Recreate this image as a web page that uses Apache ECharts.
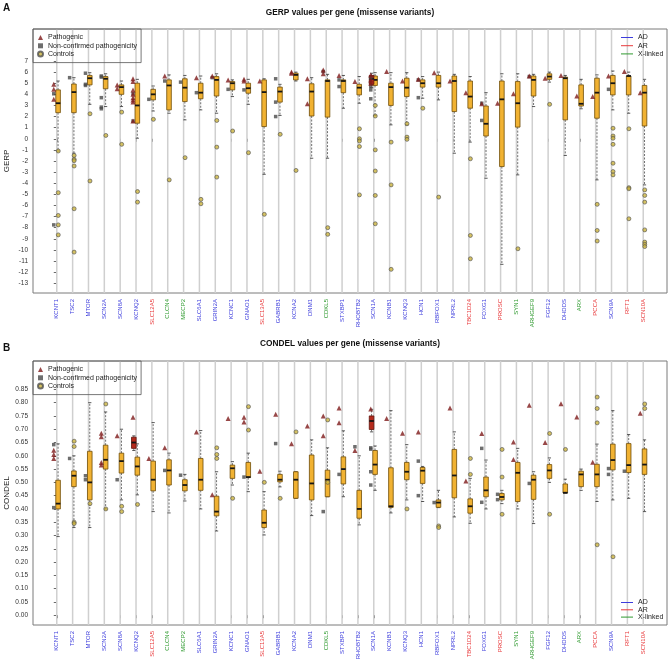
<!DOCTYPE html>
<html><head><meta charset="utf-8">
<script src="https://cdn.jsdelivr.net/npm/echarts@6/dist/echarts.min.js"></script>
<style>html,body{margin:0;padding:0;background:#fff}#c{width:669px;height:660px}</style>
</head><body><div id="c"></div>
<script>
// ---------- categories ----------
const genes = ['KCNT1','TSC2','MTOR','SCN2A','SCN8A','KCNQ2','SLC12A5','CLCN4','MECP2','SLC6A1','GRIN2A','KCNC1','GNAO1','SLC13A5','GABRB1','KCNA2','DNM1','CDKL5','STXBP1','RHOBTB2','SCN1A','KCNB1','KCNQ3','HCN1','RBFOX1','NPRL2','TBC1D24','FOXG1','PROSC','SYN1','ARHGEF9','FGF12','DHDDS','ARX','PCCA','SCN9A','RFT1','SCN10A'];
const inheritance = ['AD','AD','AD','AD','AD','AD','AR','XL','XL','AD','AD','AD','AD','AR','AD','AD','AD','XL','AD','AD','AD','AD','AD','AD','AD','AD','AR','AD','AR','XL','XL','AD','AD','XL','AR','AD','AR','AR'];

// ---------- tick labels ----------
const gerpTicks = [-13,-12,-11,-10,-9,-8,-7,-6,-5,-4,-3,-2,-1,0,1,2,3,4,5,6,7];
const condelTicks = [0.00,0.05,0.10,0.15,0.20,0.25,0.30,0.35,0.40,0.45,0.50,0.55,0.60,0.65,0.70,0.75,0.80,0.85];

// ---------- GERP (panel A) ----------
// [low whisker, Q1, median, Q3, high whisker] per gene (controls)
const gerpBoxes = [
 [-1.1,2.35,3.2,4.4,5.2],[-1.3,2.35,4.2,4.93,5.5],[3.1,4.85,5.45,5.7,5.95],[2.9,4.5,5.4,5.6,5.85],
 [2.9,4.0,4.65,4.85,5.2],[0.05,1.4,3.0,5.0,5.35],[2.5,3.5,4.0,4.45,4.75],[2.3,2.6,4.8,5.3,5.75],
 [1.7,3.35,4.6,5.4,5.7],[2.6,3.6,4.15,5.0,5.65],[2.3,3.85,5.3,5.6,5.85],[3.8,4.4,5.0,5.15,5.3],
 [3.1,4.1,4.55,5.0,5.35],[-3.2,1.1,4.2,5.3,5.4],[2.1,3.3,4.25,4.65,4.9],[5.2,5.3,5.75,5.9,6.0],
 [-1.75,2.05,4.25,4.95,5.5],[-1.75,1.95,5.2,5.3,5.8],[2.75,4.15,5.2,5.3,5.7],[3.2,3.95,4.6,4.9,5.6],
 [2.1,4.8,5.3,5.65,5.95],[1.25,3.0,4.65,5.0,5.95],[1.25,3.8,4.6,5.45,5.95],[3.65,4.65,5.0,5.3,5.6],
 [3.5,4.65,5.0,5.7,6.0],[-1.3,2.45,5.2,5.65,5.8],[-0.3,2.75,3.8,5.2,5.6],[-3.55,0.25,1.35,2.95,4.15],
 [-11.3,-2.5,3.55,5.2,5.85],[-3.25,1.05,3.2,5.15,5.85],[2.9,3.85,5.3,5.65,5.8],[5.1,5.35,5.6,5.85,6.0],
 [-1.5,1.7,5.45,5.55,5.7],[2.7,2.95,3.15,4.85,5.35],[-3.7,1.85,4.15,5.45,5.75],[2.6,3.95,5.0,5.7,6.1],
 [2.3,3.95,5.65,5.65,6.0],[-4.15,1.15,4.15,4.8,5.35]
];
const gerpPathoBoxes = [['SCN1A',4.6,4.9,5.4,5.7,5.9]];
const gerpPathogenic = [
 ['KCNT1',4.9],['KCNT1',4.45],['KCNT1',3.55],['SCN8A',4.85],['SCN8A',4.5],
 ['KCNQ2',5.4],['KCNQ2',5.15],['KCNQ2',4.4],['KCNQ2',4.0],['KCNQ2',3.7],['KCNQ2',3.5],['KCNQ2',3.3],['KCNQ2',1.6],
 ['CLCN4',5.65],['SLC6A1',5.5],['GRIN2A',5.65],['KCNC1',5.3],['GNAO1',5.35],['GNAO1',5.2],['SLC13A5',5.2],
 ['KCNA2',6.0],['KCNA2',5.9],['DNM1',5.4],['DNM1',3.15],['CDKL5',6.2],['CDKL5',5.85],['STXBP1',5.7],
 ['RHOBTB2',5.15],['SCN1A',5.75],['SCN1A',5.3],['SCN1A',5.0],['KCNB1',6.05],['KCNQ3',5.2],['HCN1',5.35],
 ['RBFOX1',5.95],['NPRL2',5.2],['TBC1D24',4.15],['FOXG1',3.15],['PROSC',3.2],['SYN1',4.05],['ARHGEF9',5.65],
 ['FGF12',5.45],['DHDDS',5.7],['ARX',3.85],['PCCA',3.8],['SCN9A',5.65],['RFT1',6.05],['SCN10A',4.15]
];
const gerpNonConfirmed = [
 ['KCNT1',4.05],['KCNT1',-7.75],['TSC2',5.5],['MTOR',5.9],['MTOR',4.9],['MTOR',4.8],
 ['SCN2A',5.65],['SCN2A',5.55],['SCN2A',3.7],['SCN2A',2.85],['SCN2A',2.7],['KCNQ2',4.05],['KCNQ2',1.6],
 ['SLC12A5',3.55],['CLCN4',5.2],['MECP2',5.1],['SLC6A1',4.15],['GRIN2A',5.5],['KCNC1',4.45],['GNAO1',4.4],
 ['GABRB1',5.4],['GABRB1',3.3],['GABRB1',2.0],['CDKL5',6.05],['STXBP1',5.3],['STXBP1',4.7],
 ['SCN1A',5.5],['SCN1A',4.7],['SCN1A',4.4],['SCN1A',3.6],['HCN1',5.3],['HCN1',3.7],['FOXG1',3.2],['FOXG1',1.65],
 ['ARHGEF9',5.6],['SCN9A',4.45]
];
const gerpControls = [
 ['KCNT1',-1.1],['KCNT1',-4.85],['KCNT1',-6.9],['KCNT1',-7.75],['KCNT1',-8.65],
 ['TSC2',-1.5],['TSC2',-1.85],['TSC2',-1.97],['TSC2',-2.45],['TSC2',-6.3],['TSC2',-10.2],
 ['MTOR',2.25],['MTOR',-3.8],['SCN2A',0.3],['SCN8A',2.4],['SCN8A',-0.5],['KCNQ2',-4.75],['KCNQ2',-5.7],
 ['SLC12A5',1.75],['CLCN4',-3.7],['MECP2',-1.7],['SLC6A1',-5.45],['SLC6A1',-5.85],
 ['GRIN2A',1.65],['GRIN2A',-0.75],['GRIN2A',-3.45],['KCNC1',0.7],['GNAO1',-1.25],['SLC13A5',-6.8],
 ['GABRB1',0.4],['KCNA2',-2.85],['CDKL5',-8.0],['CDKL5',-8.6],
 ['RHOBTB2',0.9],['RHOBTB2',0.0],['RHOBTB2',-0.2],['RHOBTB2',-0.7],['RHOBTB2',-5.05],
 ['SCN1A',3.0],['SCN1A',2.05],['SCN1A',-1.0],['SCN1A',-2.9],['SCN1A',-5.1],['SCN1A',-7.65],
 ['KCNB1',-0.3],['KCNB1',-4.15],['KCNB1',-11.75],['KCNQ3',1.35],['KCNQ3',0.15],['KCNQ3',-0.05],
 ['HCN1',2.75],['RBFOX1',-5.25],['TBC1D24',-1.8],['TBC1D24',-8.7],['TBC1D24',-10.8],['SYN1',-9.9],
 ['FGF12',3.1],['PCCA',-5.9],['PCCA',-8.25],['PCCA',-9.2],
 ['SCN9A',0.95],['SCN9A',0.25],['SCN9A',0.05],['SCN9A',-0.5],['SCN9A',-2.2],['SCN9A',-2.95],['SCN9A',-3.25],
 ['RFT1',0.9],['RFT1',-4.4],['RFT1',-4.5],['RFT1',-7.2],
 ['SCN10A',-4.6],['SCN10A',-5.1],['SCN10A',-5.7],['SCN10A',-8.2],['SCN10A',-9.3],['SCN10A',-9.5],['SCN10A',-9.7]
];

// ---------- CONDEL (panel B) ----------
const condelBoxes = [
 [0.296,0.40,0.42,0.508,0.645],[0.33,0.484,0.525,0.543,0.60],[0.33,0.434,0.50,0.617,0.80],[0.40,0.55,0.585,0.64,0.765],
 [0.434,0.535,0.58,0.61,0.70],[0.453,0.527,0.56,0.595,0.645],[0.39,0.468,0.51,0.58,0.725],[0.385,0.49,0.545,0.585,0.61],
 [0.43,0.468,0.49,0.51,0.53],[0.40,0.47,0.51,0.59,0.695],[0.317,0.374,0.39,0.448,0.54],[0.49,0.515,0.553,0.565,0.578],
 [0.465,0.518,0.52,0.575,0.61],[0.302,0.33,0.348,0.396,0.465],[0.483,0.502,0.51,0.53,0.542],[0.44,0.44,0.51,0.54,0.54],
 [0.375,0.434,0.496,0.603,0.66],[0.446,0.446,0.51,0.546,0.63],[0.446,0.494,0.55,0.596,0.694],[0.34,0.365,0.40,0.47,0.60],
 [0.47,0.53,0.567,0.62,0.637],[0.385,0.406,0.41,0.555,0.77],[0.434,0.51,0.54,0.575,0.642],[0.428,0.496,0.544,0.556,0.56],
 [0.405,0.406,0.424,0.434,0.47],[0.37,0.442,0.526,0.624,0.69],[0.346,0.384,0.41,0.438,0.515],[0.40,0.446,0.47,0.52,0.584],
 [0.42,0.434,0.445,0.458,0.47],[0.40,0.428,0.536,0.575,0.628],[0.345,0.436,0.51,0.527,0.54],[0.50,0.515,0.545,0.567,0.592],
 [0.46,0.46,0.461,0.494,0.512],[0.47,0.484,0.53,0.542,0.55],[0.428,0.484,0.53,0.568,0.644],[0.434,0.547,0.584,0.644,0.77],
 [0.44,0.537,0.565,0.646,0.68],[0.39,0.53,0.567,0.626,0.66]
];
const condelPathoBoxes = [['KCNQ2',0.62,0.628,0.65,0.67,0.675],['SCN1A',0.69,0.699,0.731,0.75,0.775]];
const condelPathogenic = [
 ['KCNT1',0.621],['KCNT1',0.605],['KCNT1',0.59],['SCN2A',0.685],['SCN2A',0.672],['SCN2A',0.575],['SCN2A',0.565],
 ['SCN8A',0.675],['KCNQ2',0.745],['SLC12A5',0.59],['CLCN4',0.63],['SLC6A1',0.69],['GRIN2A',0.453],['KCNC1',0.74],
 ['GNAO1',0.745],['GNAO1',0.727],['SLC13A5',0.542],['GABRB1',0.756],['KCNA2',0.645],['DNM1',0.712],
 ['CDKL5',0.75],['CDKL5',0.675],['STXBP1',0.78],['STXBP1',0.724],['RHOBTB2',0.62],['SCN1A',0.776],['KCNB1',0.74],
 ['KCNQ3',0.685],['HCN1',0.69],['NPRL2',0.78],['TBC1D24',0.505],['FOXG1',0.684],['SYN1',0.652],['SYN1',0.586],
 ['ARHGEF9',0.79],['FGF12',0.65],['DHDDS',0.796],['ARX',0.746],['PCCA',0.576],['SCN10A',0.76]
];
const condelNonConfirmed = [
 ['KCNT1',0.642],['KCNT1',0.405],['TSC2',0.59],['MTOR',0.525],['MTOR',0.51],['SCN8A',0.51],['CLCN4',0.545],
 ['MECP2',0.527],['GNAO1',0.52],['GABRB1',0.646],['CDKL5',0.39],['STXBP1',0.53],['RHOBTB2',0.634],
 ['SCN1A',0.63],['SCN1A',0.625],['SCN1A',0.54],['SCN1A',0.49],['HCN1',0.58],['HCN1',0.45],['RBFOX1',0.424],
 ['FOXG1',0.628],['FOXG1',0.425],['PROSC',0.455],['PROSC',0.435],['ARHGEF9',0.496],['SCN9A',0.552],['SCN9A',0.53],
 ['RFT1',0.542]
];
const condelControls = [
 ['TSC2',0.655],['TSC2',0.635],['TSC2',0.35],['TSC2',0.345],['MTOR',0.42],['SCN2A',0.795],['SCN2A',0.40],
 ['SCN8A',0.41],['SCN8A',0.39],['KCNQ2',0.417],['GRIN2A',0.63],['GRIN2A',0.605],['GRIN2A',0.59],['KCNC1',0.44],
 ['GNAO1',0.785],['GNAO1',0.697],['SLC13A5',0.50],['GABRB1',0.44],['KCNA2',0.69],['CDKL5',0.735],['CDKL5',0.50],
 ['KCNQ3',0.40],['RBFOX1',0.336],['RBFOX1',0.33],['TBC1D24',0.59],['TBC1D24',0.53],['PROSC',0.624],['PROSC',0.52],
 ['PROSC',0.38],['FGF12',0.684],['FGF12',0.38],['DHDDS',0.624],['PCCA',0.821],['PCCA',0.778],['PCCA',0.724],
 ['PCCA',0.265],['SCN9A',0.22],['SCN10A',0.795],['SCN10A',0.778]
];

// ---------- build ----------
const FONT = 'Liberation Sans, Arial, sans-serif';
const geneIdx = genes.map((g,i)=>i);
const inhColor = {AD:'#3c3cdc', AR:'#e8383a', XL:'#2f9a2f'};
const ptsOf = arr => arr.map(([g,v]) => [genes.indexOf(g), v]);
const boxData = arr => arr.map((b,i) => [i].concat(b));
const pathoBoxData = arr => arr.map(([g,...b]) => [genes.indexOf(g)].concat(b));

function boxRender(offset, fill, stroke) {
  return function(params, api) {
    const i = api.value(0);
    const pL = api.coord([i, api.value(1)]), p1 = api.coord([i, api.value(2)]),
          pM = api.coord([i, api.value(3)]), p3 = api.coord([i, api.value(4)]),
          pH = api.coord([i, api.value(5)]);
    const cx = pL[0] + offset, hw = 2.3, sw = 1.6;
    const ws = {stroke:'#333', lineWidth:0.7, lineDash:[2,1.5]};
    const ss = {stroke:'#333', lineWidth:0.8};
    return {type:'group', children:[
      {type:'line', shape:{x1:cx,y1:p3[1],x2:cx,y2:pH[1]}, style:ws},
      {type:'line', shape:{x1:cx,y1:p1[1],x2:cx,y2:pL[1]}, style:ws},
      {type:'line', shape:{x1:cx-sw,y1:pH[1],x2:cx+sw,y2:pH[1]}, style:ss},
      {type:'line', shape:{x1:cx-sw,y1:pL[1],x2:cx+sw,y2:pL[1]}, style:ss},
      {type:'rect', shape:{x:cx-hw,y:p3[1],width:2*hw,height:Math.max(p1[1]-p3[1],0.8)}, style:{fill:fill, stroke:stroke, lineWidth:0.8}},
      {type:'line', shape:{x1:cx-hw,y1:pM[1],x2:cx+hw,y2:pM[1]}, style:{stroke:'#151515', lineWidth:1.8}}
    ]};
  };
}
function vlineRender(params, api) {
  const p = api.coord([api.value(0), 0]);
  const cs = params.coordSys;
  return {type:'line', shape:{x1:p[0],y1:cs.y,x2:p[0],y2:cs.y+cs.height}, style:{stroke:'#cfcfcf', lineWidth:1.5}};
}

function xAxisFor(gi) {
  return {
    type:'value', gridIndex:gi, min:-1.5, max:38.5,
    axisLine:{show:false}, splitLine:{show:false},
    axisTick:{show:true, customValues:geneIdx, length:3, lineStyle:{color:'#444', width:0.8}},
    axisLabel:{show:true, customValues:geneIdx, rotate:90, margin:6, fontSize:6, fontFamily:FONT,
      formatter: v => { const i = Math.round(v); return '{' + inheritance[i] + '|' + genes[i] + '}'; },
      rich:{AD:{color:inhColor.AD,fontSize:6,fontFamily:FONT}, AR:{color:inhColor.AR,fontSize:6,fontFamily:FONT}, XL:{color:inhColor.XL,fontSize:6,fontFamily:FONT}}}
  };
}
function yAxisFor(gi, name, min, max, ticks, fmt) {
  return {
    type:'value', gridIndex:gi, min:min, max:max, name:name, nameLocation:'middle', nameGap:22, nameMoveOverlap:false,
    nameTextStyle:{fontSize:8, color:'#222', fontFamily:FONT},
    axisLine:{show:false}, splitLine:{show:false},
    axisTick:{show:true, customValues:ticks, length:3, lineStyle:{color:'#444', width:0.8}},
    axisLabel:{show:true, customValues:ticks, fontSize:6.5, color:'#333', margin:5, fontFamily:FONT, formatter:fmt, showMaxLabel:true, showMinLabel:true, hideOverlap:false}
  };
}
function panelSeries(gi, boxes, pboxes, patho, nonconf, ctrl) {
  return [
    {type:'custom', xAxisIndex:gi, yAxisIndex:gi, z:1, silent:true, renderItem:vlineRender, data:geneIdx.map(i=>[i]), encode:{x:0}},
    {type:'custom', xAxisIndex:gi, yAxisIndex:gi, z:2, renderItem:boxRender(1.3,'#f1b232','#6e4c08'),
      data:boxData(boxes), dimensions:['x','low','q1','med','q3','high'], encode:{x:0,y:[1,2,3,4,5]}},
    {type:'custom', xAxisIndex:gi, yAxisIndex:gi, z:2, renderItem:boxRender(-2.2,'#b52a1c','#5e120a'),
      data:pathoBoxData(pboxes), dimensions:['x','low','q1','med','q3','high'], encode:{x:0,y:[1,2,3,4,5]}},
    {type:'scatter', name:'Controls', xAxisIndex:gi, yAxisIndex:gi, z:3, symbol:'circle', symbolSize:4, symbolOffset:[1.5,0],
      itemStyle:{color:'#c9b23c', borderColor:'#505050', borderWidth:0.8}, data:ptsOf(ctrl)},
    {type:'scatter', name:'Non-confirmed pathogenicity', xAxisIndex:gi, yAxisIndex:gi, z:4, symbol:'rect', symbolSize:3.5, symbolOffset:[-3,0],
      itemStyle:{color:'#4a4a4a'}, data:ptsOf(nonconf)},
    {type:'scatter', name:'Pathogenic', xAxisIndex:gi, yAxisIndex:gi, z:5, symbol:'triangle', symbolSize:5, symbolOffset:[-3,0],
      itemStyle:{color:'#7e1a1a'}, data:ptsOf(patho)}
  ];
}
const legendScatter = (top) => ({
  orient:'vertical', left:33, top:top, padding:[5,4,5,4], itemGap:1.3, itemWidth:5, itemHeight:5,
  borderColor:'#555', borderWidth:0.8, selectedMode:false,
  textStyle:{fontSize:7, color:'#222', fontFamily:FONT},
  data:['Pathogenic','Non-confirmed pathogenicity','Controls']
});
const legendInh = (top, gap) => ({
  orient:'vertical', left:621, top:top, padding:0, itemGap:gap, itemWidth:12, itemHeight:7, selectedMode:false,
  textStyle:{fontSize:7, color:'#222', fontFamily:FONT},
  data:[{name:'AD', icon:'path://M0,0H12V1H0Z'},{name:'AR', icon:'path://M0,0H12V1H0Z'},{name:'X-linked', icon:'path://M0,0H12V1H0Z'}]
});

const option = {
  animation:false,
  textStyle:{fontFamily:FONT},
  grid:[
    {left:33, right:2, top:29, height:264, show:true, borderColor:'#7a7a7a', borderWidth:1, backgroundColor:'transparent', containLabel:false, outerBoundsMode:'none'},
    {left:33, right:2, top:361, height:264, show:true, borderColor:'#7a7a7a', borderWidth:1, backgroundColor:'transparent', containLabel:false, outerBoundsMode:'none'}
  ],
  xAxis:[xAxisFor(0), xAxisFor(1)],
  yAxis:[
    yAxisFor(0,'GERP',-13.88,9.88,gerpTicks, v => String(Math.round(v))),
    yAxisFor(1,'CONDEL',-0.0368,0.9568,condelTicks, v => v.toFixed(2))
  ],
  legend:[legendScatter(29), legendInh(34,1.2), legendScatter(361), legendInh(599,0.3)],
  graphic:[
    {type:'text', x:3, y:3, style:{text:'A', font:'bold 10px '+FONT, fill:'#111'}},
    {type:'text', x:350, y:9, style:{text:'GERP values per gene (missense variants)', font:'bold 8.3px '+FONT, fill:'#111', textAlign:'center', align:'center'}},
    {type:'text', x:3, y:343, style:{text:'B', font:'bold 10px '+FONT, fill:'#111'}},
    {type:'text', x:350, y:340, style:{text:'CONDEL values per gene (missense variants)', font:'bold 8.3px '+FONT, fill:'#111', textAlign:'center', align:'center'}}
  ],
  series: [].concat(
    panelSeries(0, gerpBoxes, gerpPathoBoxes, gerpPathogenic, gerpNonConfirmed, gerpControls),
    panelSeries(1, condelBoxes, condelPathoBoxes, condelPathogenic, condelNonConfirmed, condelControls),
    [
      {type:'line', name:'AD', xAxisIndex:0, yAxisIndex:0, data:[], symbol:'none', color:inhColor.AD, lineStyle:{width:1}},
      {type:'line', name:'AR', xAxisIndex:0, yAxisIndex:0, data:[], symbol:'none', color:inhColor.AR, lineStyle:{width:1}},
      {type:'line', name:'X-linked', xAxisIndex:0, yAxisIndex:0, data:[], symbol:'none', color:inhColor.XL, lineStyle:{width:1}}
    ]
  )
};
const chart = echarts.init(document.getElementById('c'), null, {renderer:'canvas'});
chart.setOption(option);
</script>
</body></html>
